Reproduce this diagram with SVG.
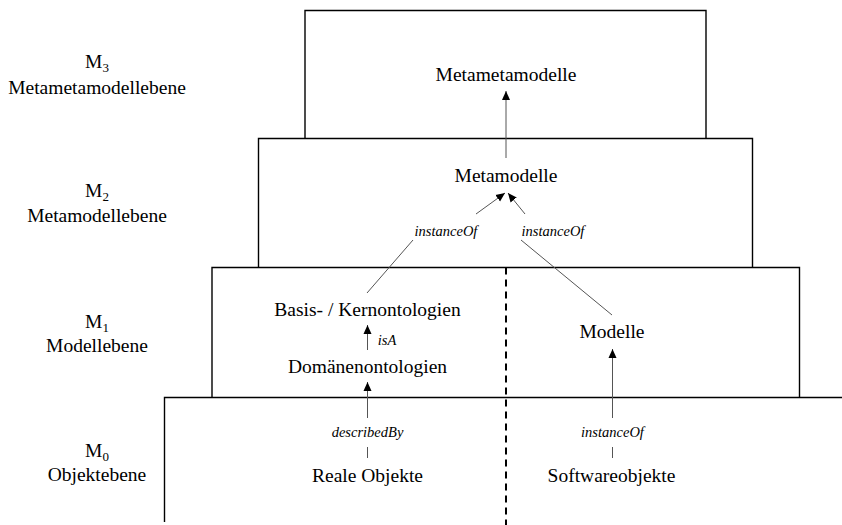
<svg xmlns="http://www.w3.org/2000/svg" width="842" height="525" viewBox="0 0 842 525">
  <style>
    .frame { fill: none; stroke: #000; stroke-width: 1.4; }
    .divider { stroke: #000; stroke-width: 2; stroke-dasharray: 7 5; fill: none; }
    .conn { stroke: #555; stroke-width: 1; fill: none; }
    text { font-family: 'Liberation Serif', 'Times New Roman', serif; fill: #000; text-anchor: middle; }
    .lbl { font-size: 19.5px; }
    .rel { font-size: 14.5px; font-style: italic; }
    .sub { font-size: 13px; }
  </style>
  <defs>
    <marker id="arrow" markerUnits="userSpaceOnUse" markerWidth="10" markerHeight="10" viewBox="0 0 10 10" refX="9" refY="5" orient="auto">
      <path d="M0,1 L9,5 L0,9 Z" fill="#000"/>
    </marker>
  </defs>
  <rect width="842" height="525" fill="#fff"/>

  <!-- level frames, stacked as a stepped pyramid -->
  <g id="levels">
    <path class="frame" d="M305,138.5 V10.5 H706 V138.5"/>
    <path class="frame" d="M258.5,267.5 V138.5 H752.5 V267.5"/>
    <path class="frame" d="M212,397.5 V267.5 H799.5 V397.5"/>
    <path class="frame" d="M164.5,522 V397.5 H842"/>
    <line class="divider" x1="506" y1="267.5" x2="506" y2="525"/>
  </g>

  <!-- level captions -->
  <g id="level-m3">
    <text class="lbl" x="97" y="68">M<tspan class="sub" dy="4">3</tspan></text>
    <text class="lbl" x="97" y="94">Metametamodellebene</text>
  </g>
  <g id="level-m2">
    <text class="lbl" x="97" y="197">M<tspan class="sub" dy="4">2</tspan></text>
    <text class="lbl" x="97" y="222">Metamodellebene</text>
  </g>
  <g id="level-m1">
    <text class="lbl" x="97" y="328">M<tspan class="sub" dy="4">1</tspan></text>
    <text class="lbl" x="97" y="352">Modellebene</text>
  </g>
  <g id="level-m0">
    <text class="lbl" x="97" y="457">M<tspan class="sub" dy="4">0</tspan></text>
    <text class="lbl" x="97" y="481">Objektebene</text>
  </g>

  <!-- nodes -->
  <g id="metametamodelle"><text class="lbl" x="506" y="81">Metametamodelle</text></g>
  <g id="metamodelle"><text class="lbl" x="506" y="182">Metamodelle</text></g>
  <g id="kernontologien"><text class="lbl" x="367.5" y="316">Basis- / Kernontologien</text></g>
  <g id="domaenenontologien"><text class="lbl" x="367.5" y="373">Domänenontologien</text></g>
  <g id="modelle"><text class="lbl" x="612" y="338">Modelle</text></g>
  <g id="reale-objekte"><text class="lbl" x="367.5" y="482">Reale Objekte</text></g>
  <g id="softwareobjekte"><text class="lbl" x="611.5" y="482">Softwareobjekte</text></g>

  <!-- connectors -->
  <g id="connectors">
    <line class="conn" x1="506" y1="158" x2="506" y2="91" marker-end="url(#arrow)"/>
    <line class="conn" x1="476" y1="214" x2="505" y2="193" marker-end="url(#arrow)"/>
    <line class="conn" x1="525" y1="214" x2="508" y2="193" marker-end="url(#arrow)"/>
    <line class="conn" x1="413" y1="240" x2="367" y2="293"/>
    <line class="conn" x1="521" y1="240" x2="612" y2="315"/>
    <line class="conn" x1="367.5" y1="350" x2="367.5" y2="325" marker-end="url(#arrow)"/>
    <line class="conn" x1="367.5" y1="418" x2="367.5" y2="382" marker-end="url(#arrow)"/>
    <line class="conn" x1="367.5" y1="447" x2="367.5" y2="458"/>
    <line class="conn" x1="612.5" y1="418" x2="612.5" y2="349" marker-end="url(#arrow)"/>
    <line class="conn" x1="612.5" y1="447" x2="612.5" y2="458"/>
    <text class="rel" x="446" y="236">instanceOf</text>
    <text class="rel" x="553" y="236">instanceOf</text>
    <text class="rel" x="387" y="345" text-anchor="start">isA</text>
    <text class="rel" x="367.5" y="437">describedBy</text>
    <text class="rel" x="612.5" y="437">instanceOf</text>
  </g>
</svg>
